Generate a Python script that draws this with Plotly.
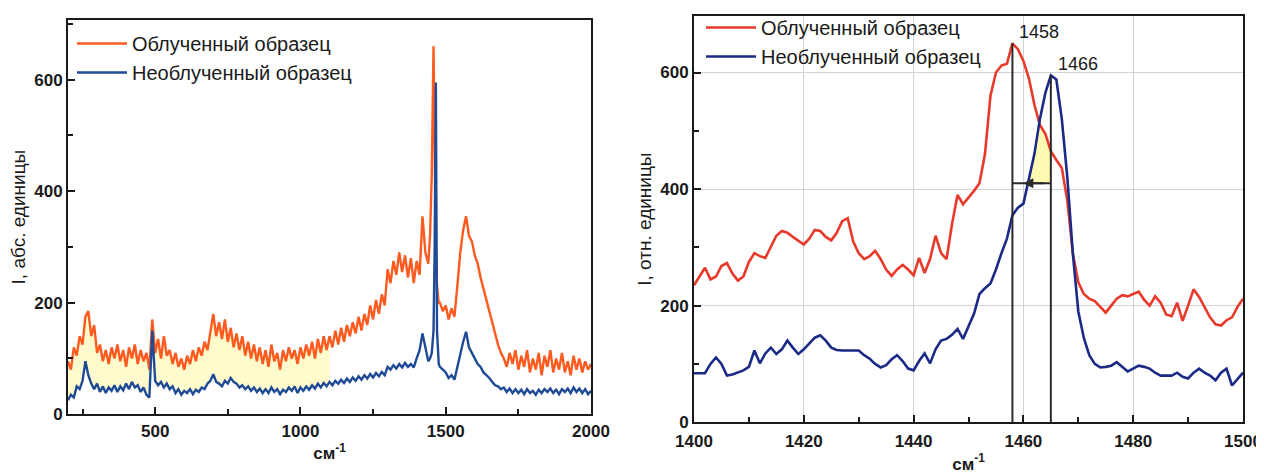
import plotly.graph_objects as go

# ---------------- Left panel data (Raman spectrum, 200-2000 cm-1) ----------------
x_left = list(range(200, 1450, 10)) + [1446, 1452, 1458, 1462, 1466, 1470, 1476] + list(range(1480, 2010, 10))

orange_left = [
    95, 80, 120, 105, 140, 125, 175, 185, 140, 160,
    110, 125, 95, 115, 90, 120, 100, 125, 95, 115,
    85, 120, 100, 125, 90, 115, 95, 110, 80, 170,
    110, 135, 100, 140, 105, 115, 90, 110, 85, 100,
    80, 105, 90, 115, 95, 120, 105, 130, 115, 150,
    180, 140, 165, 135, 170, 130, 155, 120, 145, 115,
    140, 105, 130, 100, 125, 95, 120, 90, 115, 85,
    125, 95, 110, 80, 115, 95, 120, 100, 115, 90,
    120, 100, 125, 105, 130, 100, 135, 110, 140, 115,
    140, 120, 150, 125, 155, 130, 160, 140, 165, 145,
    175, 150, 180, 160, 195, 170, 205, 180, 215, 195,
    260, 235, 275, 250, 290, 255, 285, 245, 280, 235,
    275, 250, 355, 290, 270,
    320, 430, 660, 460, 300, 230, 200,
    200, 185, 195, 170, 190, 175, 230, 290, 330, 355,
    320, 310, 285, 270, 245, 225, 200, 180, 160, 140,
    125, 110, 100, 85, 110, 90, 115, 80, 105, 85,
    115, 75, 100, 80, 110, 70, 105, 85, 115, 75,
    100, 80, 110, 75, 95, 70, 105, 80, 100, 75,
    95, 80, 90,
]

blue_left = [
    25, 35, 30, 50, 45, 60, 95, 70, 55, 45,
    55, 40, 50, 38, 48, 42, 52, 40, 50, 43,
    55, 45, 58, 48, 52, 40, 48, 35, 30, 150,
    60, 52, 58, 48, 55, 45, 50, 38, 45, 35,
    42, 38, 45, 36, 44, 40, 48, 45, 55, 60,
    72, 58, 55, 50, 60, 55, 65, 58, 55, 48,
    52, 45, 50, 42, 48, 40, 46, 38, 45, 38,
    48, 40, 45, 36, 44, 40, 48, 42, 50, 38,
    48, 42, 50, 44, 52, 46, 55, 48, 56, 50,
    58, 52, 60, 55, 62, 56, 64, 58, 66, 60,
    68, 62, 70, 64, 72, 66, 74, 68, 76, 70,
    85, 80, 88, 82, 90, 84, 92, 85, 90, 84,
    100, 115, 145, 120, 95,
    100, 110, 150, 300, 595, 150, 90,
    85, 80, 75, 65, 70, 62, 85, 110, 130, 148,
    120, 110, 100, 90, 85, 75, 70, 65, 58, 52,
    50, 45, 48, 40, 46, 38, 45, 38, 44, 36,
    45, 38, 42, 35, 44, 38, 45, 40, 46, 38,
    44, 36, 45, 40, 46, 38, 48, 40, 46, 38,
    45, 36, 42,
]
fill_left_max = 1100

# ---------------- Right panel data (zoom 1400-1500 cm-1) ----------------
x_right = list(range(1400, 1501))

red_right = [
    235, 250, 265, 245, 250, 268, 273, 255, 243, 250,
    275, 290, 285, 282, 300, 320, 328, 325, 318, 312,
    305, 315, 330, 328, 318, 312, 325, 345, 350, 310,
    290, 280, 285, 294, 280, 262, 251, 262, 270, 262,
    252, 282, 256, 280, 320, 290, 280, 340, 390, 374,
    385, 397, 410, 460, 560, 600, 612, 615, 650, 640,
    620, 590, 545, 510, 495, 465, 450, 436, 380, 290,
    240, 220, 212, 208, 198, 188, 200, 212, 218, 216,
    220, 224, 210, 200, 216, 205, 185, 182, 205, 174,
    200, 228, 215, 197, 180, 168, 166, 175, 180, 198,
    212,
]

blue_right = [
    84, 84, 84, 100, 111, 100, 80, 82, 86, 89,
    95, 123, 101, 118, 128, 117, 125, 140, 128, 117,
    125, 135, 145, 149, 140, 128, 124, 123, 123, 124,
    123, 115, 109, 100, 94, 98, 108, 115, 105, 92,
    89, 105, 118, 101, 125, 140, 143, 150, 160, 143,
    165, 186, 220, 230, 238, 262, 290, 315, 355, 368,
    375, 420, 460, 520, 565, 595, 588, 520, 420, 290,
    190, 145, 115, 100, 94, 95, 97, 103, 95, 87,
    92, 97, 95, 92, 85, 80, 80, 80, 85, 78,
    75, 85, 92, 85, 80, 72, 85, 92, 63, 75,
    85,
]

peak_labels = ["1458", "1466"]
shift_level = 410
overlap_range = [1461, 1465]

names = ["Облученный образец", "Необлученный образец"]

# page offset (browser body margin) compensation
OX, OY = 8, 8
W, H = 1264 - OX, 474 - OY


def px_x(X):
    return (X - OX) / W


def px_y(Y):
    return (H - (Y - OY)) / H


FONT = "Liberation Sans, Arial, sans-serif"
INK = "#1a1a1a"

fig = go.Figure()

# ---- left panel ----
n_fill = sum(1 for v in x_left if v <= fill_left_max)
fig.add_trace(go.Scatter(x=x_left[:n_fill], y=blue_left[:n_fill], mode="lines",
                         line=dict(width=0), showlegend=False, hoverinfo="skip",
                         xaxis="x", yaxis="y"))
fig.add_trace(go.Scatter(x=x_left[:n_fill], y=orange_left[:n_fill], mode="lines",
                         line=dict(width=0), fill="tonexty",
                         fillcolor="rgba(255,250,195,0.85)", showlegend=False,
                         hoverinfo="skip", xaxis="x", yaxis="y"))
fig.add_trace(go.Scatter(x=x_left, y=orange_left, mode="lines", name=names[0],
                         line=dict(color="#FF5A1F", width=2.4), legend="legend",
                         xaxis="x", yaxis="y"))
fig.add_trace(go.Scatter(x=x_left, y=blue_left, mode="lines", name=names[1],
                         line=dict(color="#1F4A96", width=2.4), legend="legend",
                         xaxis="x", yaxis="y"))

# ---- right panel ----
ov_idx = [i for i, v in enumerate(x_right) if overlap_range[0] <= v <= overlap_range[1]]
ov_x = [x_right[i] for i in ov_idx]
ov_top = [min(red_right[i], blue_right[i]) for i in ov_idx]
fig.add_trace(go.Scatter(x=ov_x, y=[shift_level] * len(ov_x), mode="lines",
                         line=dict(width=0), showlegend=False, hoverinfo="skip",
                         xaxis="x2", yaxis="y2"))
fig.add_trace(go.Scatter(x=ov_x, y=ov_top, mode="lines", line=dict(width=0),
                         fill="tonexty", fillcolor="rgba(255,250,170,0.9)",
                         showlegend=False, hoverinfo="skip", xaxis="x2", yaxis="y2"))

fig.add_trace(go.Scatter(x=x_right, y=red_right, mode="lines", name=names[0],
                         line=dict(color="#E8392B", width=2.6), legend="legend2",
                         xaxis="x2", yaxis="y2"))
fig.add_trace(go.Scatter(x=x_right, y=blue_right, mode="lines", name=names[1],
                         line=dict(color="#1B2A86", width=2.6), legend="legend2",
                         xaxis="x2", yaxis="y2"))

# peak markers
ir = red_right.index(max(red_right))
ib = blue_right.index(max(blue_right))
peaks = [(x_right[ir], red_right[ir]), (x_right[ib], blue_right[ib])]
for (px, pv), lab in zip(peaks, peak_labels):
    fig.add_trace(go.Scatter(x=[px, px], y=[0, pv], mode="lines",
                             line=dict(color="#2a2a2a", width=2), showlegend=False,
                             hoverinfo="skip", xaxis="x2", yaxis="y2"))
    fig.add_annotation(x=px, y=pv, xref="x2", yref="y2", text=lab, showarrow=False,
                       xanchor="left", yanchor="middle", xshift=5, yshift=11,
                       font=dict(family=FONT, size=18, color=INK))

# shift arrow
fig.add_trace(go.Scatter(x=[peaks[0][0], peaks[1][0]], y=[shift_level, shift_level],
                         mode="lines", line=dict(color="#2a2a2a", width=1.8),
                         showlegend=False, hoverinfo="skip", xaxis="x2", yaxis="y2"))
fig.add_annotation(x=peaks[0][0] + 2, y=shift_level, ax=peaks[1][0] - 1, ay=shift_level,
                   xref="x2", yref="y2", axref="x2", ayref="y2", text="",
                   showarrow=True, arrowhead=2, arrowsize=1.1, arrowwidth=1.8,
                   arrowcolor="#2a2a2a")

axis_common = dict(showline=True, linecolor=INK, linewidth=2, mirror=True,
                   ticks="inside", ticklen=7, tickwidth=2, tickcolor=INK,
                   zeroline=False, automargin=False, ticklabeloverflow="allow",
                   tickfont=dict(family=FONT, size=17, color=INK, weight="bold"))

fig.update_layout(
    width=W, height=H,
    margin=dict(l=0, r=0, t=0, b=0),
    paper_bgcolor="white", plot_bgcolor="white",
    font=dict(family=FONT, color=INK),
    xaxis=dict(domain=[px_x(68), px_x(591)], range=[200, 2000], tick0=0, dtick=500,
               showgrid=False,
               minor=dict(dtick=250, ticks="inside", ticklen=5, tickwidth=2, tickcolor=INK),
               title=dict(text="см<sup>-1</sup>", standoff=4,
                          font=dict(family=FONT, size=17, color=INK, weight="bold")),
               **axis_common),
    yaxis=dict(domain=[px_y(414), px_y(18)], range=[0, 707], tick0=0, dtick=200,
               showgrid=False,
               minor=dict(dtick=100, ticks="inside", ticklen=5, tickwidth=2, tickcolor=INK),
               title=dict(text="I, абс. единицы", standoff=6,
                          font=dict(family=FONT, size=19, color=INK)),
               **axis_common),
    xaxis2=dict(domain=[px_x(694), px_x(1243)], range=[1400, 1500], tick0=1400, dtick=20,
                anchor="y2", showgrid=True, gridcolor="#d2d2d2", gridwidth=1,
                ticklabelstandoff=2,
                minor=dict(dtick=10, ticks="inside", ticklen=5, tickwidth=2, tickcolor=INK),
                title=dict(text="см<sup>-1</sup>", standoff=8,
                           font=dict(family=FONT, size=17, color=INK, weight="bold")),
                **axis_common),
    yaxis2=dict(domain=[px_y(422), px_y(14)], range=[0, 697], tick0=0, dtick=200,
                anchor="x2", showgrid=True, gridcolor="#d2d2d2", gridwidth=1,
                minor=dict(dtick=100, ticks="inside", ticklen=5, tickwidth=2, tickcolor=INK),
                title=dict(text="I, отн. единицы", standoff=4,
                           font=dict(family=FONT, size=19, color=INK)),
                **axis_common),
    legend=dict(x=px_x(72), y=px_y(22), xanchor="left", yanchor="top",
                traceorder="normal",
                bgcolor="rgba(0,0,0,0)", borderwidth=0, itemwidth=50,
                font=dict(family=FONT, size=20, color=INK), tracegroupgap=0),
    legend2=dict(x=px_x(701), y=px_y(6), xanchor="left", yanchor="top",
                 traceorder="normal",
                 bgcolor="rgba(0,0,0,0)", borderwidth=0, itemwidth=50,
                 font=dict(family=FONT, size=20, color=INK), tracegroupgap=0),
    showlegend=True,
)

fig.write_html("out.html")
